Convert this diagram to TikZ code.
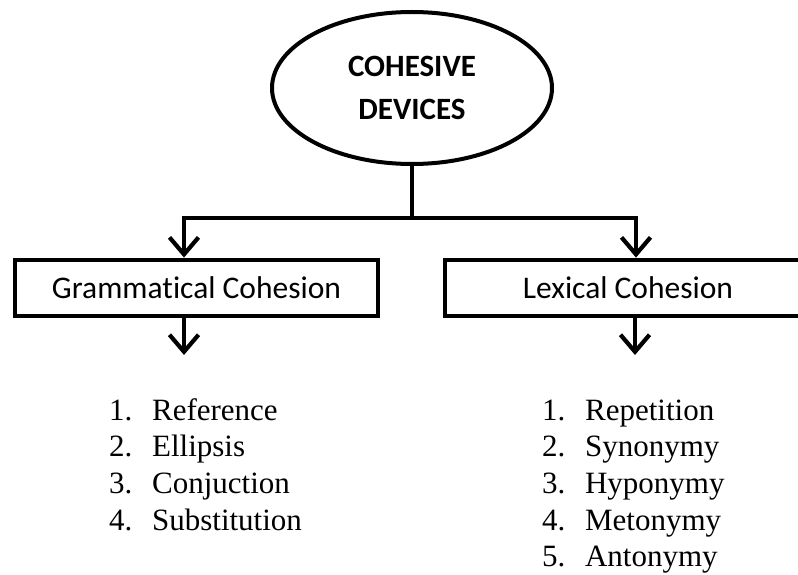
\documentclass[tikz,border=0pt]{standalone}
\usepackage{fontspec}
\setmainfont[Ligatures={NoCommon}]{Carlito}
\newfontfamily\tnr{Liberation Serif}
\usetikzlibrary{shapes.geometric,arrows.meta}
\begin{document}
\begin{tikzpicture}[x=1pt,y=-1pt,
  line width=4.2pt,
  arr/.style={-{Straight Barb[length=17pt,width=29pt,line width=4.2pt]}},
  topell/.style={ellipse,draw,line width=4pt,minimum width=280pt,minimum height=152pt,
    align=center,font=\fontsize{31}{43}\selectfont\bfseries,inner sep=0pt},
  catbox/.style={draw,line width=4.8pt,minimum width=363pt,minimum height=56pt,
    font=\fontsize{31.5}{36}\selectfont,inner sep=0pt},
  itemlist/.style={anchor=base west,inner sep=0pt,font=\tnr\fontsize{31}{36.7}\selectfont}
]
\clip (0,0) rectangle (798,575);
\fill[white] (0,0) rectangle (798,575);
\node[topell] (top) at (412,88) {COHESIVE\\DEVICES};
\node[catbox] (gbox) at (196.5,288) {Grammatical Cohesion};
\node[catbox,minimum width=366pt] (lbox) at (628,288) {Lexical Cohesion};
\coordinate (j) at (412,218);
\coordinate (jl) at (184,218);
\coordinate (jr) at (636,218);
\draw (top.south) -- (j);
\draw[line cap=rect] (jl) -- (jr);
\draw[arr] (jl) -- (jl |- gbox.north);
\draw[arr] (jr) -- (jr |- lbox.north);
\coordinate (ga) at (184,355);
\coordinate (la) at (635,355);
\draw[arr] (ga |- gbox.south) -- (ga);
\draw[arr] (la |- lbox.south) -- (la);
\node[itemlist] (glist) at (107,420) {\begin{tabular}[t]{@{}p{43pt}@{}l@{}}
1. & Reference\\
2. & Ellipsis\\
3. & Conjuction\\
4. & Substitution
\end{tabular}};
\node[itemlist] (llist) at (540,420) {\begin{tabular}[t]{@{}p{43pt}@{}l@{}}
1. & Repetition\\
2. & Synonymy\\
3. & Hyponymy\\
4. & Metonymy\\
5. & Antonymy
\end{tabular}};
\end{tikzpicture}
\end{document}
